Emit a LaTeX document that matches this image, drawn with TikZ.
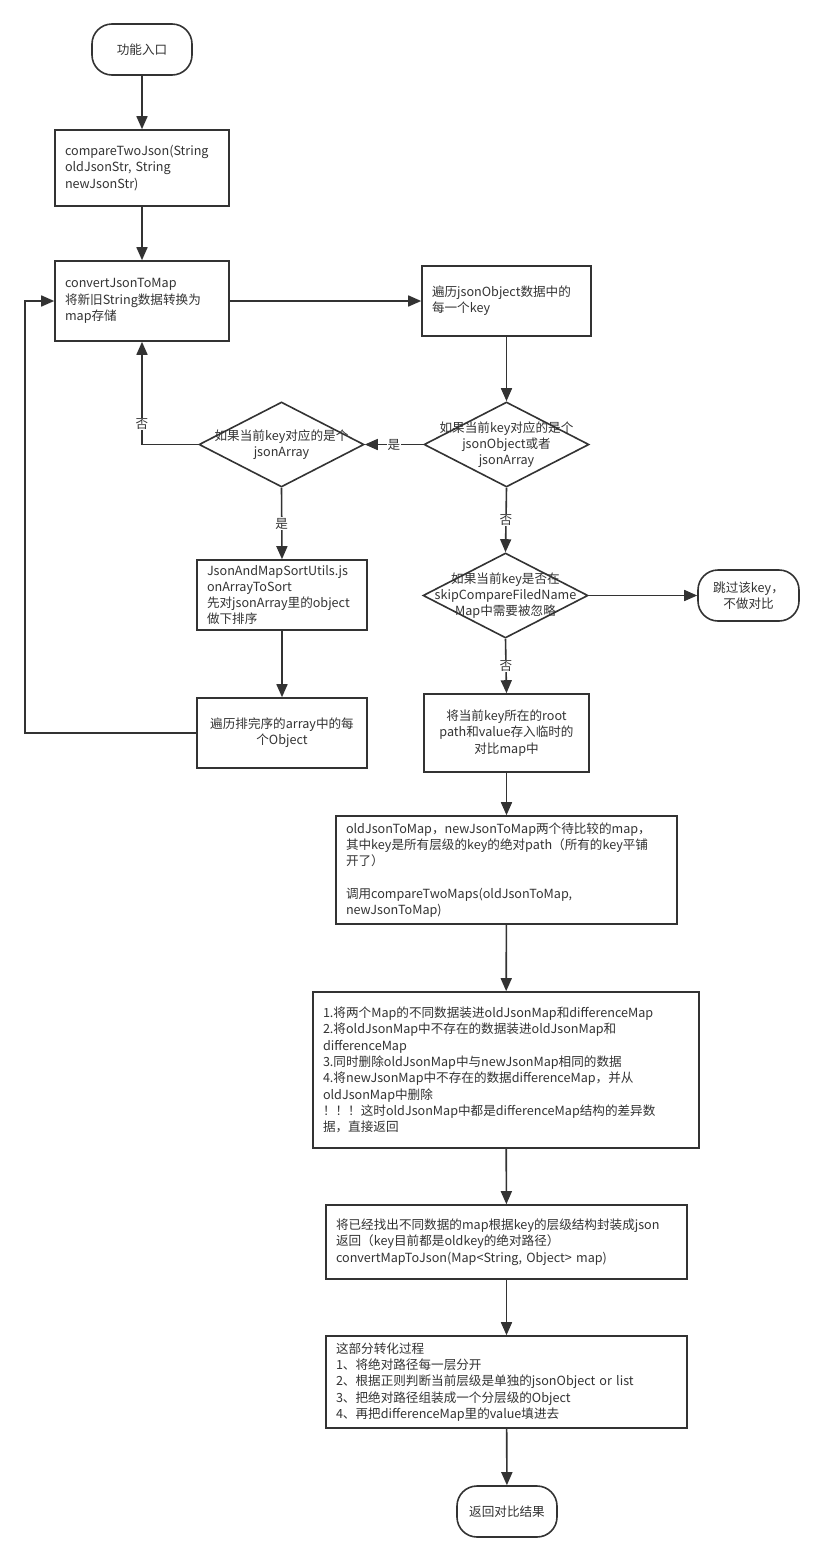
\documentclass[tikz,border=0pt]{standalone}
\usepackage{fontspec}
\setmainfont{Noto Sans CJK SC}
\usetikzlibrary{arrows.meta,shapes.geometric}
\hyphenpenalty=10000
\exhyphenpenalty=10000
\definecolor{lc}{HTML}{333333}
\definecolor{tc}{HTML}{333333}
\begin{document}
\begin{tikzpicture}[x=1pt,y=-1pt,
  every node/.style={font=\fontsize{12.6}{16.3}\selectfont, text=tc},
  box/.style={draw=lc, line width=1.6pt, inner xsep=10pt, inner ysep=0pt, align=left},
  cbox/.style={box, align=center},
  term/.style={draw=lc, line width=1.6pt, rounded corners=20pt, minimum width=100pt, minimum height=51pt, inner sep=0pt, align=center},
  dia/.style={diamond, draw=lc, line width=1.6pt, minimum width=165pt, minimum height=85pt, inner sep=0pt},
  dtxt/.style={align=center, inner sep=0pt},
  arr/.style={draw=lc, line width=1.6pt, -{Triangle[length=13pt,width=11pt]}},
  lbl/.style={fill=white, inner sep=1pt}
]
\fill[white] (0,0) rectangle (824,1561);
\useasboundingbox (0,0) rectangle (824,1561);

% main column (left)
\node[term] (start) at (142,49.5) {功能入口};
\node[box, text width=154pt, minimum height=76pt] (cmp) at (142,168)
  {compareTwoJson(String\\oldJsonStr,~String\\newJsonStr)};
\node[box, text width=154pt, minimum height=80pt] (conv) at (142,301)
  {convertJsonToMap\\将新旧String数据转换为\\map存储};

% right column
\node[box, text width=149pt, minimum height=70pt] (iter) at (506.5,301)
  {遍历jsonObject数据中的\\每一个key};
\node[dia] (d1) at (506.5,444.5) {};
\node[dtxt] (d1t) at (d1) {如果当前key对应的是个\\jsonObject或者\\jsonArray};
\node[dia] (d2) at (505.5,595.5) {};
\node[dtxt] (d2t) at (d2) {如果当前key是否在\\skipCompareFiledName\\Map中需要被忽略};
\node[term, minimum width=101pt] (skip) at (748.5,595.5) {跳过该key，\\不做对比};
\node[cbox, text width=145pt, minimum height=78pt] (tmp) at (506.5,733)
  {将当前key所在的root\\path和value存入临时的\\对比map中};
\node[box, text width=321pt, minimum height=108pt] (old) at (506.5,870)
  {oldJsonToMap，newJsonToMap两个待比较的map，\\其中key是所有层级的key的绝对path（所有的key平铺\\开了）\\[16.3pt]调用compareTwoMaps(oldJsonToMap,\\newJsonToMap)};
\node[box, text width=366pt, minimum height=156pt] (diff) at (506,1070)
  {1.将两个Map的不同数据装进oldJsonMap和differenceMap\\2.将oldJsonMap中不存在的数据装进oldJsonMap和\\differenceMap\\3.同时删除oldJsonMap中与newJsonMap相同的数据\\4.将newJsonMap中不存在的数据differenceMap，并从\\oldJsonMap中删除\\！！！这时oldJsonMap中都是differenceMap结构的差异数\\据，直接返回};
\node[box, text width=341pt, minimum height=74pt] (conv2) at (506.5,1242)
  {将已经找出不同数据的map根据key的层级结构封装成json\\返回（key目前都是oldkey的绝对路径）\\convertMapToJson(Map<String,~Object>~map)};
\node[box, text width=341pt, minimum height=92pt] (proc) at (506.5,1382)
  {这部分转化过程\\1、将绝对路径每一层分开\\2、根据正则判断当前层级是单独的jsonObject~or~list\\3、把绝对路径组装成一个分层级的Object\\4、再把differenceMap里的value填进去};
\node[term] (end) at (507,1511.5) {返回对比结果};

% left branch
\node[dia] (d3) at (281.5,444.5) {};
\node[dtxt] (d3t) at (d3) {如果当前key对应的是个\\jsonArray};
\node[box, text width=150pt, minimum height=70pt] (sort) at (282,595)
  {JsonAndMapSortUtils.js\\onArrayToSort\\先对jsonArray里的object\\做下排序};
\node[cbox, text width=150pt, minimum height=70pt] (each) at (282,733)
  {遍历排完序的array中的每\\个Object};
\coordinate (lb) at (25,733);

% connectors
\draw[arr] (start) -- (cmp);
\draw[arr] (cmp) -- (conv);
\draw[arr] (conv.east) -- (iter.west);
\draw[arr] (iter) -- (d1.north);
\draw[arr] (d1.west) -- node[lbl] (l1) {是} (d3.east);
\draw[arr] (d1.south) -- node[lbl] (l2) {否} (d2.north);
\draw[arr] (d2.east) -- (skip.west);
\draw[arr] (d2.south) -- node[lbl] (l3) {否} (tmp.north);
\draw[arr] (tmp) -- (old);
\draw[arr] (old) -- (diff);
\draw[arr] (diff) -- (conv2);
\draw[arr] (conv2) -- (proc);
\draw[arr] (proc) -- (end);
\draw[arr] (d3.west) -| node[lbl, pos=0.6] (l4) {否} (conv.south);
\draw[arr] (d3.south) -- node[lbl] (l5) {是} (sort.north);
\draw[arr] (sort) -- (each);
\draw[arr] (each.west) -- (lb) |- (conv.west);
\end{tikzpicture}
\end{document}
